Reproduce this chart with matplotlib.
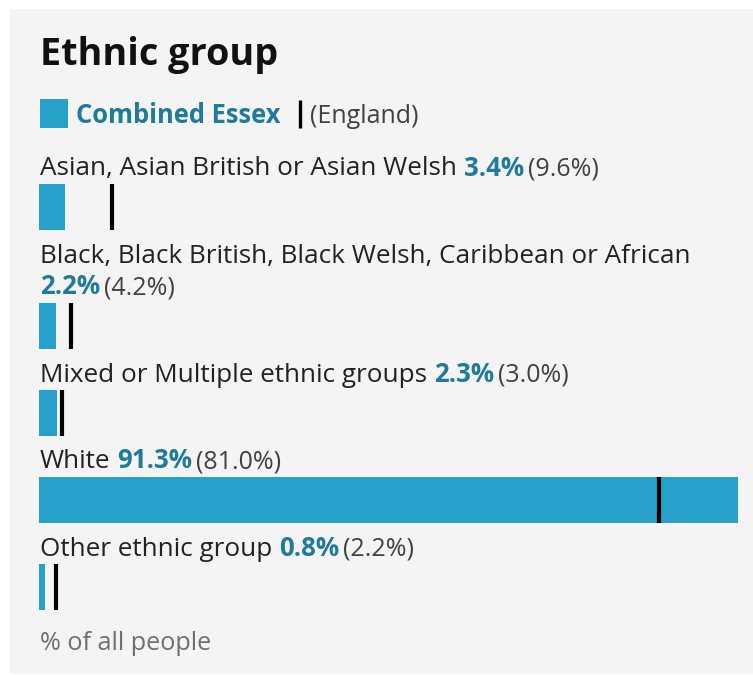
import matplotlib
matplotlib.use("Agg")
import matplotlib.pyplot as plt
from matplotlib.patches import Rectangle

# ---------------- data ----------------
title = "Ethnic group"
area_name = "Combined Essex"
comparison_name = "England"
categories = [
    "Asian, Asian British or Asian Welsh",
    "Black, Black British, Black Welsh, Caribbean or African",
    "Mixed or Multiple ethnic groups",
    "White",
    "Other ethnic group",
]
area_values = [3.4, 2.2, 2.3, 91.3, 0.8]
england_values = [9.6, 4.2, 3.0, 81.0, 2.2]
footer = "% of all people"

# ---------------- style ----------------
W, H, DPI = 753, 675, 100
PANEL = "#f4f4f4"
BAR_COLOR = "#27a0cc"
VALUE_COLOR = "#1f7a9b"
LABEL_COLOR = "#222222"
COMP_COLOR = "#414141"
FOOT_COLOR = "#707070"
FS_TITLE = 27.2
FS_LABEL = 18.8
FS_VALUE = 18.6
FS_COMP = 18.0
FS_LEGEND = 18.4
FS_FOOT = 18.2

plt.rcParams["font.family"] = ["Open Sans", "DejaVu Sans"]

fig = plt.figure(figsize=(W / DPI, H / DPI), dpi=DPI)
fig.patch.set_facecolor("white")

# overlay axes in pixel coordinates (y downwards)
ax = fig.add_axes([0, 0, 1, 1])
ax.set_xlim(0, W)
ax.set_ylim(H, 0)
ax.axis("off")

# bar axes: x in percent, y in pixels
BAR_LEFT, BAR_RIGHT = 39, 738
bx = fig.add_axes([BAR_LEFT / W, 0, (BAR_RIGHT - BAR_LEFT) / W, 1])
bx.set_xlim(0, max(area_values + england_values))
bx.set_ylim(H, 0)
bx.axis("off")

ax.add_patch(Rectangle((10, 9), W - 10, 665, facecolor=PANEL, edgecolor="none", zorder=0))

renderer = fig.canvas.get_renderer()


def width_px(t):
    return t.get_window_extent(renderer).width


# title
ax.text(40, 65, title, fontsize=FS_TITLE, fontweight="bold", color="#111111", va="baseline", ha="left")

# legend
ax.add_patch(Rectangle((40, 99), 28, 29, facecolor=BAR_COLOR, edgecolor="none"))
ax.text(76, 123, area_name, fontsize=FS_LEGEND, fontweight="bold", color=VALUE_COLOR, va="baseline", ha="left")
ax.plot([300, 300], [100, 128], color="black", lw=2.4, solid_capstyle="butt")
ax.text(310, 123, f"({comparison_name})", fontsize=FS_COMP, color=COMP_COLOR, va="baseline", ha="left")

# rows
baseline = 175.5
LINE = 32
BASE_TO_BAR = 8.5
BAR_H = 45.5
BAR_TO_BASE = 33
GAP1, GAP2 = 7, 4
for cat, v, e in zip(categories, area_values, england_values):
    t0 = ax.text(40, baseline, cat, fontsize=FS_LABEL, color=LABEL_COLOR, va="baseline", ha="left")
    x_end = 40 + width_px(t0)
    tv = ax.text(0, baseline, f"{v:.1f}%", fontsize=FS_VALUE, fontweight="bold", color=VALUE_COLOR,
                 va="baseline", ha="left")
    te = ax.text(0, baseline, f"({e:.1f}%)", fontsize=FS_COMP, color=COMP_COLOR, va="baseline", ha="left")
    wv, we = width_px(tv), width_px(te)
    if x_end + GAP1 + wv + GAP2 + we > BAR_RIGHT:
        baseline += LINE
        xv = 40
    else:
        xv = x_end + GAP1
    tv.set_position((xv, baseline))
    te.set_position((xv + wv + GAP2, baseline))

    top = baseline + BASE_TO_BAR
    bx.barh([top + BAR_H / 2], [v], height=BAR_H, left=0, color=BAR_COLOR, edgecolor="none")
    bx.vlines([e], top, top + BAR_H, color="black", lw=3.0)
    baseline = top + BAR_H + BAR_TO_BASE

# footer
ax.text(40, baseline + 7.5, footer, fontsize=FS_FOOT, color=FOOT_COLOR, va="baseline", ha="left")

fig.savefig("out.png", dpi=DPI, facecolor="white")
